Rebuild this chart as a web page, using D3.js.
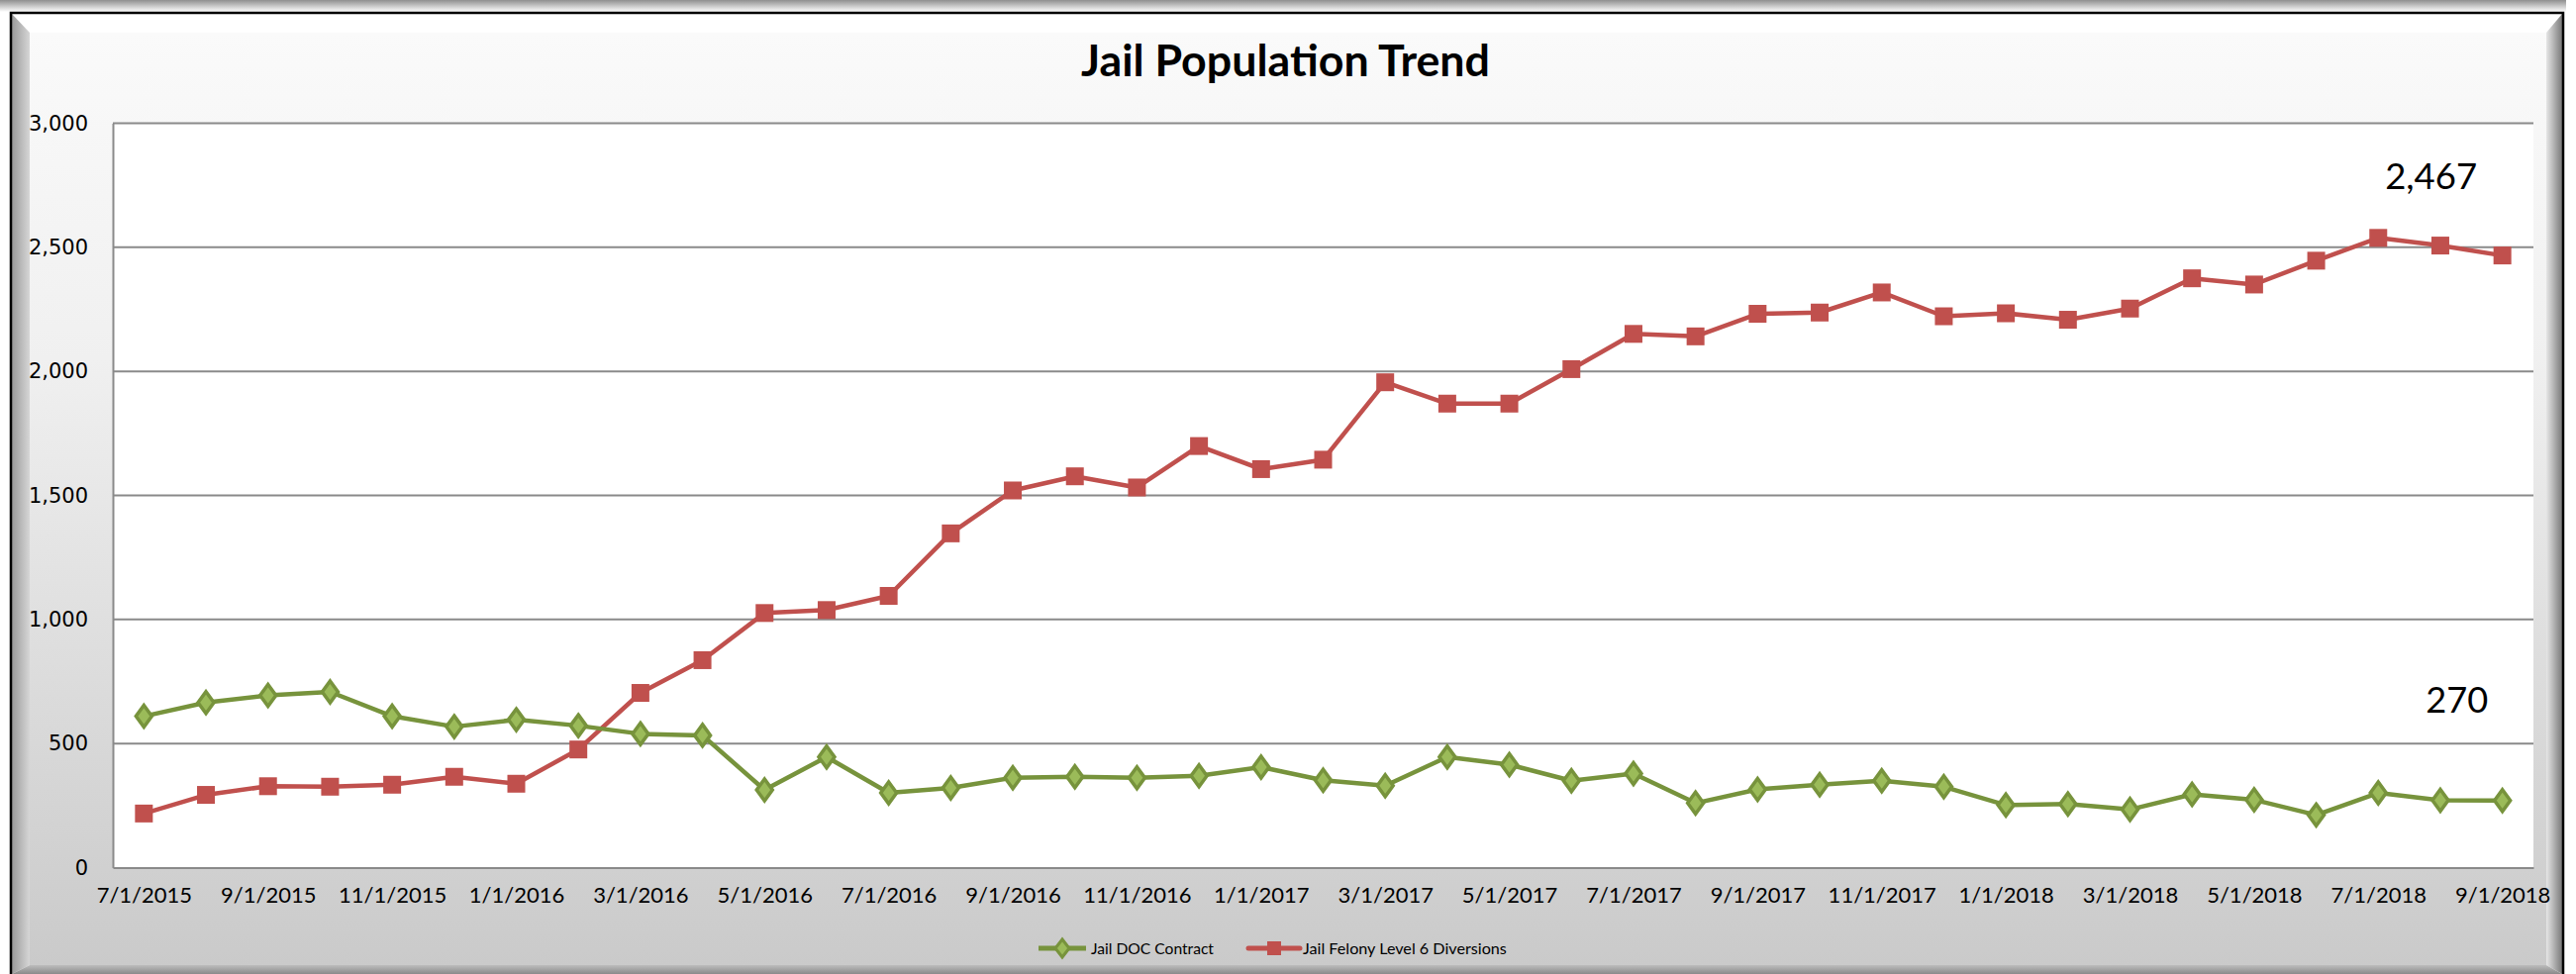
<!DOCTYPE html>
<html><head><meta charset="utf-8">
<script src="https://cdn.jsdelivr.net/npm/d3@7"></script>
<style>html,body{margin:0;padding:0;background:#fff;}svg{display:block;}</style>
</head><body>
<svg id="chart" width="2602" height="984"></svg>
<script>
const categories = ["7/1/2015","8/1/2015","9/1/2015","10/1/2015","11/1/2015","12/1/2015",
 "1/1/2016","2/1/2016","3/1/2016","4/1/2016","5/1/2016","6/1/2016","7/1/2016","8/1/2016","9/1/2016","10/1/2016","11/1/2016","12/1/2016",
 "1/1/2017","2/1/2017","3/1/2017","4/1/2017","5/1/2017","6/1/2017","7/1/2017","8/1/2017","9/1/2017","10/1/2017","11/1/2017","12/1/2017",
 "1/1/2018","2/1/2018","3/1/2018","4/1/2018","5/1/2018","6/1/2018","7/1/2018","8/1/2018","9/1/2018"];
const docContract = [610,665,694,708,610,568,596,572,539,533,313,446,301,321,362,366,362,370,405,352,330,446,415,350,379,260,315,334,350,326,252,256,234,295,273,212,301,271,270];
const felonyDiversions = [218,293,328,326,334,366,338,476,704,836,1026,1038,1095,1347,1520,1577,1532,1699,1606,1644,1956,1870,1870,2009,2151,2141,2232,2237,2318,2222,2234,2208,2253,2375,2350,2446,2538,2507,2467];
const tickLabels = ["7/1/2015","9/1/2015","11/1/2015","1/1/2016","3/1/2016","5/1/2016","7/1/2016","9/1/2016","11/1/2016","1/1/2017","3/1/2017","5/1/2017","7/1/2017","9/1/2017","11/1/2017","1/1/2018","3/1/2018","5/1/2018","7/1/2018","9/1/2018"];
const yTicks = [0,500,1000,1500,2000,2500,3000];
const seriesNames = ["Jail DOC Contract","Jail Felony Level 6 Diversions"];
const title = "Jail Population Trend";

const W = 2602, H = 984;
const svg = d3.select("#chart");
const defs = svg.append("defs");

function lg(id, x1,y1,x2,y2, stops){
  const g = defs.append("linearGradient").attr("id",id).attr("x1",x1).attr("y1",y1).attr("x2",x2).attr("y2",y2);
  stops.forEach(s=>g.append("stop").attr("offset",s[0]).attr("stop-color",s[1]));
}
lg("topShadow",0,0,0,1,[[0,"#8f8f8f"],[1,"#ffffff"]]);
lg("panel",0,0,0,1,[[0,"#fafafa"],[0.35,"#f0f0f0"],[1,"#cacaca"]]);
lg("leftBevel",0,0,1,0,[[0,"#9a9a9a"],[1,"#d6d6d6"]]);
lg("rightBevel",0,0,1,0,[[0,"#e6e6e6"],[1,"#7a7a7a"]]);
lg("bottomBevel",0,0,0,1,[[0,"#bdbdbd"],[1,"#8a8a8a"]]);

// frame
svg.append("rect").attr("x",0).attr("y",0).attr("width",2592).attr("height",12).attr("fill","url(#topShadow)");
const fx0=12, fy0=14, fx1=2588, fy1=H+20;
const ix0=30, iy0=33, ix1=2572, iy1=975;
svg.append("rect").attr("x",ix0).attr("y",iy0).attr("width",ix1-ix0).attr("height",iy1-iy0).attr("fill","url(#panel)");
svg.append("polygon").attr("points",`${fx0},${fy0} ${fx1},${fy0} ${ix1},${iy0} ${ix0},${iy0}`).attr("fill","#ffffff");
svg.append("polygon").attr("points",`${fx0},${fy0} ${ix0},${iy0} ${ix0},${iy1} ${fx0},${H}`).attr("fill","url(#leftBevel)");
svg.append("polygon").attr("points",`${fx1},${fy0} ${ix1},${iy0} ${ix1},${iy1} ${fx1},${H}`).attr("fill","url(#rightBevel)");
svg.append("polygon").attr("points",`${ix0},${iy1} ${ix1},${iy1} ${fx1},${H} ${fx0},${H}`).attr("fill","url(#bottomBevel)");
svg.append("rect").attr("x",11).attr("y",13).attr("width",2578).attr("height",H+20).attr("fill","none").attr("stroke","#000").attr("stroke-width",2.5);

// plot area
const pl=114, pr=2559, pt=124.5, pb=876.5;
svg.append("rect").attr("x",pl).attr("y",pt).attr("width",pr-pl).attr("height",pb-pt).attr("fill","#fff");

const x = d3.scalePoint().domain(categories).range([pl,pr]).padding(0.5);
const y = d3.scaleLinear().domain([0,3000]).range([pb,pt]);

// gridlines
svg.append("g").selectAll("line").data(yTicks.filter(d=>d>0)).join("line")
  .attr("x1",pl).attr("x2",pr).attr("y1",d=>y(d)).attr("y2",d=>y(d))
  .attr("stroke","#8a8a8a").attr("stroke-width",2);

// axes
const yAxis = svg.append("g").attr("transform",`translate(${pl},0)`)
  .call(d3.axisLeft(y).tickValues(yTicks).tickFormat(d3.format(",")).tickSize(0).tickPadding(25));
yAxis.select(".domain").attr("stroke","#8a8a8a").attr("stroke-width",2);
yAxis.selectAll("text").attr("font-family","'DejaVu Sans', sans-serif").attr("font-size",21).attr("fill","#000");

const xAxis = svg.append("g").attr("transform",`translate(0,${pb})`)
  .call(d3.axisBottom(x).tickValues(tickLabels).tickSize(0).tickPadding(20));
xAxis.select(".domain").attr("stroke","#8a8a8a").attr("stroke-width",2);
xAxis.selectAll("text").attr("font-family","Lato, sans-serif").attr("font-size",22).attr("fill","#000");

// lines
const green="#77933C", greenFill="#9BBB59", red="#C0504D";
const line = d3.line().x((d,i)=>x(categories[i])).y(d=>y(d));
svg.append("path").datum(felonyDiversions).attr("d",line).attr("fill","none").attr("stroke",red).attr("stroke-width",4.5).attr("stroke-linejoin","round");
svg.append("path").datum(docContract).attr("d",line).attr("fill","none").attr("stroke",green).attr("stroke-width",4.5).attr("stroke-linejoin","round");

const diamond = (cx,cy,w,h)=>`M${cx},${cy-h/2}L${cx+w/2},${cy}L${cx},${cy+h/2}L${cx-w/2},${cy}Z`;
svg.append("g").selectAll("path").data(docContract).join("path")
  .attr("d",(d,i)=>diamond(x(categories[i]),y(d),16,22))
  .attr("fill",greenFill).attr("stroke",green).attr("stroke-width",3.5);
svg.append("g").selectAll("rect").data(felonyDiversions).join("rect")
  .attr("x",(d,i)=>x(categories[i])-9).attr("y",d=>y(d)-9).attr("width",18).attr("height",18)
  .attr("fill",red);

// text fitting helper
function fit(sel, target){
  const n = sel.node(); const w = n.getComputedTextLength();
  const fs = parseFloat(sel.attr("font-size"));
  sel.attr("font-size", fs*target/w);
}

// title
const t = svg.append("text").attr("x",1298.5).attr("y",77).attr("text-anchor","middle")
  .attr("font-family","Lato, sans-serif").attr("font-weight","bold").attr("font-size",40).text(title);
fit(t,413);

// annotations for last values
const last = categories.length-1;
const fmt = d3.format(",");
const a1 = svg.append("text").attr("x",x(categories[last])-72).attr("y",y(felonyDiversions[last])-67)
  .attr("text-anchor","middle").attr("font-family","Lato, sans-serif").attr("font-size",36).text(fmt(felonyDiversions[last]));
fit(a1,93);
const a2 = svg.append("text").attr("x",x(categories[last])-46).attr("y",y(docContract[last])-89)
  .attr("text-anchor","middle").attr("font-family","Lato, sans-serif").attr("font-size",36).text(fmt(docContract[last]));
fit(a2,63);

// legend
const ly = 958;
const lg1 = svg.append("g");
lg1.append("line").attr("x1",1049).attr("x2",1097).attr("y1",ly).attr("y2",ly).attr("stroke",green).attr("stroke-width",5);
lg1.append("path").attr("d",diamond(1073,ly,14,18)).attr("fill",greenFill).attr("stroke",green).attr("stroke-width",3);
const l1 = lg1.append("text").attr("x",1102).attr("y",ly+6).attr("font-family","Lato, sans-serif").attr("font-size",17).text(seriesNames[0]);
fit(l1,124);
const lg2 = svg.append("g");
lg2.append("line").attr("x1",1261).attr("x2",1313).attr("y1",ly).attr("y2",ly).attr("stroke",red).attr("stroke-width",5).attr("stroke-linecap","round");
lg2.append("rect").attr("x",1280).attr("y",ly-7).attr("width",14).attr("height",14).attr("fill",red);
const l2 = lg2.append("text").attr("x",1316).attr("y",ly+6).attr("font-family","Lato, sans-serif").attr("font-size",17).text(seriesNames[1]);
fit(l2,206);
</script>
</body></html>
